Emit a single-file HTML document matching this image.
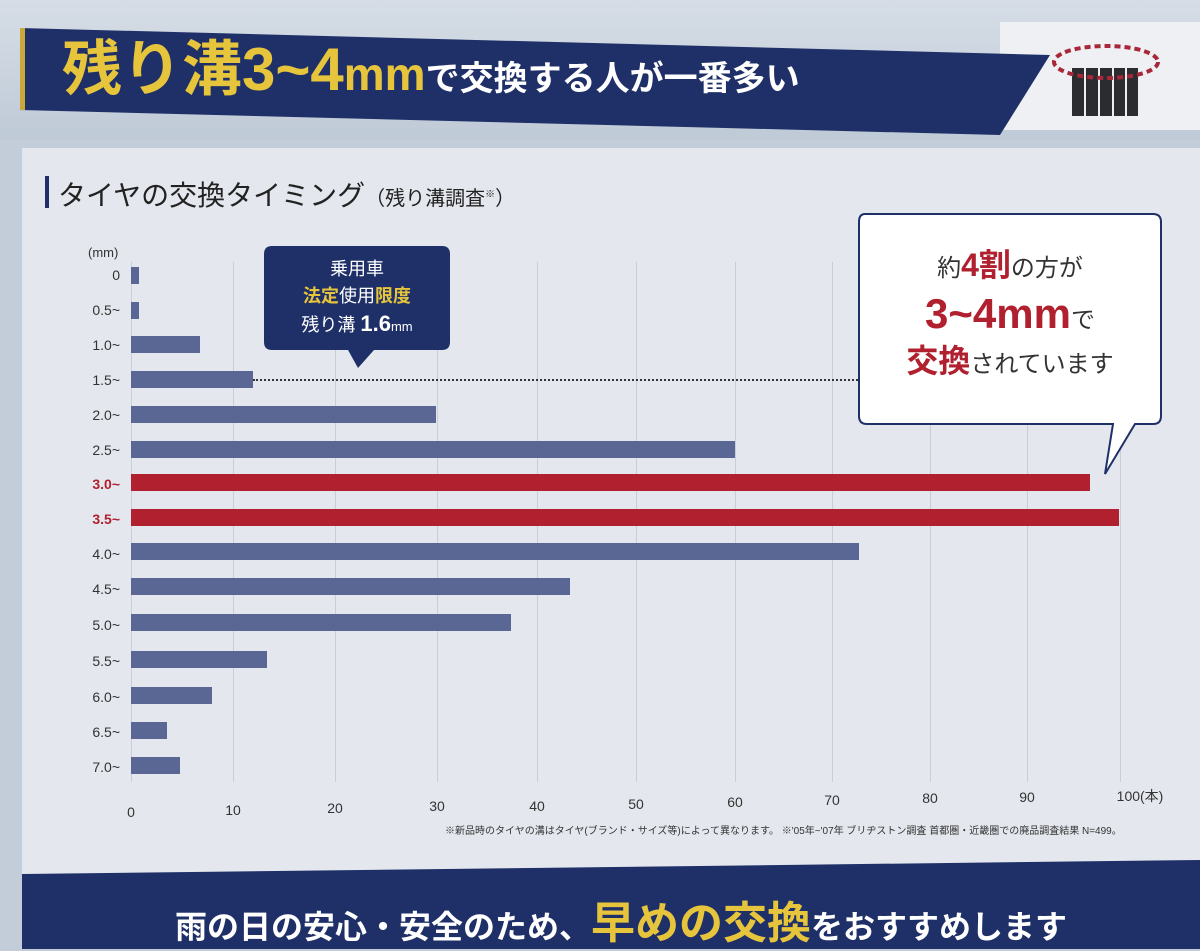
<!DOCTYPE html>
<html><head><meta charset="utf-8"><style>
body{margin:0;width:1200px;height:949px;overflow:hidden;background:#c3cdd9;font-family:"Liberation Sans","Noto Sans CJK JP",sans-serif;position:relative}
.a{position:absolute}
.lbl{position:absolute;width:90px;text-align:right;font-size:14px;color:#333}
.bar{position:absolute;left:131px;height:17px;background:#5a6794}
.red{background:#b0202e}
.grid{position:absolute;top:262px;height:520px;width:1px;background:#c9ced6}
.tick{position:absolute;top:798px;font-size:14px;color:#333;width:40px;text-align:center}
</style></head><body>
<div class="a" style="left:0;top:0;width:1200px;height:140px;background:linear-gradient(#d6dde6,#bfcad7)"></div>
<div class="a" style="left:1000px;top:22px;width:200px;height:108px;background:#eef0f3"></div>
<svg class="a" style="left:20px;top:10px" width="1030" height="125"><polygon points="0,18 1030,45 980,125 0,100" fill="#1f3068"/><rect x="0" y="18" width="5" height="82" fill="#c9a93a"/></svg>
<div class="a" style="left:62px;top:40px;font-size:60px;font-weight:bold;color:#e6c53c;line-height:1;white-space:nowrap">残り溝3~4<span style="font-size:46px">mm</span><span style="font-size:34px;color:#fff">で交換する人が一番多い</span></div>
<svg class="a" style="left:1050px;top:38px" width="120" height="80"><rect x="22" y="30" width="66" height="48" fill="#2a2c30"/><g stroke="#eee" stroke-width="2"><line x1="35" y1="28" x2="35" y2="78"/><line x1="49" y1="28" x2="49" y2="78"/><line x1="63" y1="28" x2="63" y2="78"/><line x1="76" y1="28" x2="76" y2="78"/></g><ellipse cx="56" cy="24" rx="52" ry="16" fill="none" stroke="#a8283a" stroke-width="4" stroke-dasharray="6 4"/></svg>
<div class="a" style="left:22px;top:148px;width:1178px;height:730px;background:#e4e8ee"></div>
<div class="a" style="left:45px;top:176px;width:4px;height:32px;background:#1f3068"></div>
<div class="a" style="left:58px;top:174px;font-size:28px;color:#222">タイヤの交換タイミング<span style="font-size:20px">（残り溝調査<sup style="font-size:10px">※</sup>）</span></div>
<div class="a" style="left:88px;top:245px;font-size:13px;color:#333">(mm)</div>
<div class="grid" style="left:131px"></div><div class="grid" style="left:233px"></div><div class="grid" style="left:335px"></div><div class="grid" style="left:437px"></div><div class="grid" style="left:537px"></div><div class="grid" style="left:636px"></div><div class="grid" style="left:735px"></div><div class="grid" style="left:832px"></div><div class="grid" style="left:930px"></div><div class="grid" style="left:1027px"></div><div class="grid" style="left:1120px"></div>
<div class="lbl" style="left:30px;top:267px">0</div><div class="bar" style="top:267px;width:8px"></div>
<div class="lbl" style="left:30px;top:302px">0.5~</div><div class="bar" style="top:302px;width:8px"></div>
<div class="lbl" style="left:30px;top:337px">1.0~</div><div class="bar" style="top:336px;width:69px"></div>
<div class="lbl" style="left:30px;top:372px">1.5~</div><div class="bar" style="top:371px;width:122px"></div>
<div class="lbl" style="left:30px;top:407px">2.0~</div><div class="bar" style="top:406px;width:305px"></div>
<div class="lbl" style="left:30px;top:442px">2.5~</div><div class="bar" style="top:441px;width:604px"></div>
<div class="lbl" style="left:30px;top:476px;color:#b0202e;font-weight:bold">3.0~</div><div class="bar red" style="top:474px;width:959px"></div>
<div class="lbl" style="left:30px;top:511px;color:#b0202e;font-weight:bold">3.5~</div><div class="bar red" style="top:509px;width:988px"></div>
<div class="lbl" style="left:30px;top:546px">4.0~</div><div class="bar" style="top:543px;width:728px"></div>
<div class="lbl" style="left:30px;top:581px">4.5~</div><div class="bar" style="top:578px;width:439px"></div>
<div class="lbl" style="left:30px;top:617px">5.0~</div><div class="bar" style="top:614px;width:380px"></div>
<div class="lbl" style="left:30px;top:653px">5.5~</div><div class="bar" style="top:651px;width:136px"></div>
<div class="lbl" style="left:30px;top:689px">6.0~</div><div class="bar" style="top:687px;width:81px"></div>
<div class="lbl" style="left:30px;top:724px">6.5~</div><div class="bar" style="top:722px;width:36px"></div>
<div class="lbl" style="left:30px;top:759px">7.0~</div><div class="bar" style="top:757px;width:49px"></div>
<div class="a" style="left:253px;top:379px;width:605px;border-top:2px dotted #333"></div>
<div class="tick" style="left:111px;top:804px">0</div><div class="tick" style="left:213px;top:802px">10</div><div class="tick" style="left:315px;top:800px">20</div><div class="tick" style="left:417px">30</div><div class="tick" style="left:517px">40</div><div class="tick" style="left:616px;top:796px">50</div><div class="tick" style="left:715px;top:794px">60</div><div class="tick" style="left:812px;top:792px">70</div><div class="tick" style="left:910px;top:790px">80</div><div class="tick" style="left:1007px;top:789px">90</div><div class="tick" style="left:1110px;top:786px;width:60px">100(本)</div>
<div class="a" style="left:445px;top:822px;font-size:10px;color:#333">※新品時のタイヤの溝はタイヤ(ブランド・サイズ等)によって異なります。 ※'05年~'07年 ブリヂストン調査 首都圏・近畿圏での廃品調査結果 N=499。</div>
<svg class="a" style="left:264px;top:246px" width="186" height="126"><path d="M8,0H178Q186,0 186,8V96Q186,104 178,104H110L94,122L84,104H8Q0,104 0,96V8Q0,0 8,0Z" fill="#1f3068"/></svg>
<div class="a" style="left:264px;top:256px;width:186px;text-align:center;color:#fff;font-size:18px;line-height:27px">乗用車<br><b style="color:#e6c53c">法定</b>使用<b style="color:#e6c53c">限度</b><br>残り溝 <b style="font-size:22px">1.6</b><span style="font-size:13px">mm</span></div>
<svg class="a" style="left:855px;top:212px" width="310" height="265"><path d="M10,2H298Q306,2 306,10V204Q306,212 298,212H280L250,262L258,212H12Q4,212 4,204V10Q4,2 10,2Z" fill="#fff" stroke="#1f3068" stroke-width="2"/></svg>
<div class="a" style="left:880px;top:245px;width:260px;text-align:center;font-size:24px;color:#333;line-height:1.3">約<b style="color:#b0202e;font-size:32px">4割</b>の方が<br><b style="color:#b0202e;font-size:42px">3~4mm</b>で<br><b style="color:#b0202e;font-size:32px">交換</b>されています</div>
<svg class="a" style="left:0;top:860px" width="1200" height="89"><polygon points="22,14 1200,0 1200,89 22,89" fill="#1f3068"/></svg>
<div class="a" style="left:175px;top:887px;font-size:32px;font-weight:bold;color:#fff;white-space:nowrap">雨の日の安心・安全のため、<span style="color:#e6c53c;font-size:44px">早めの交換</span>をおすすめします</div>
</body></html>
